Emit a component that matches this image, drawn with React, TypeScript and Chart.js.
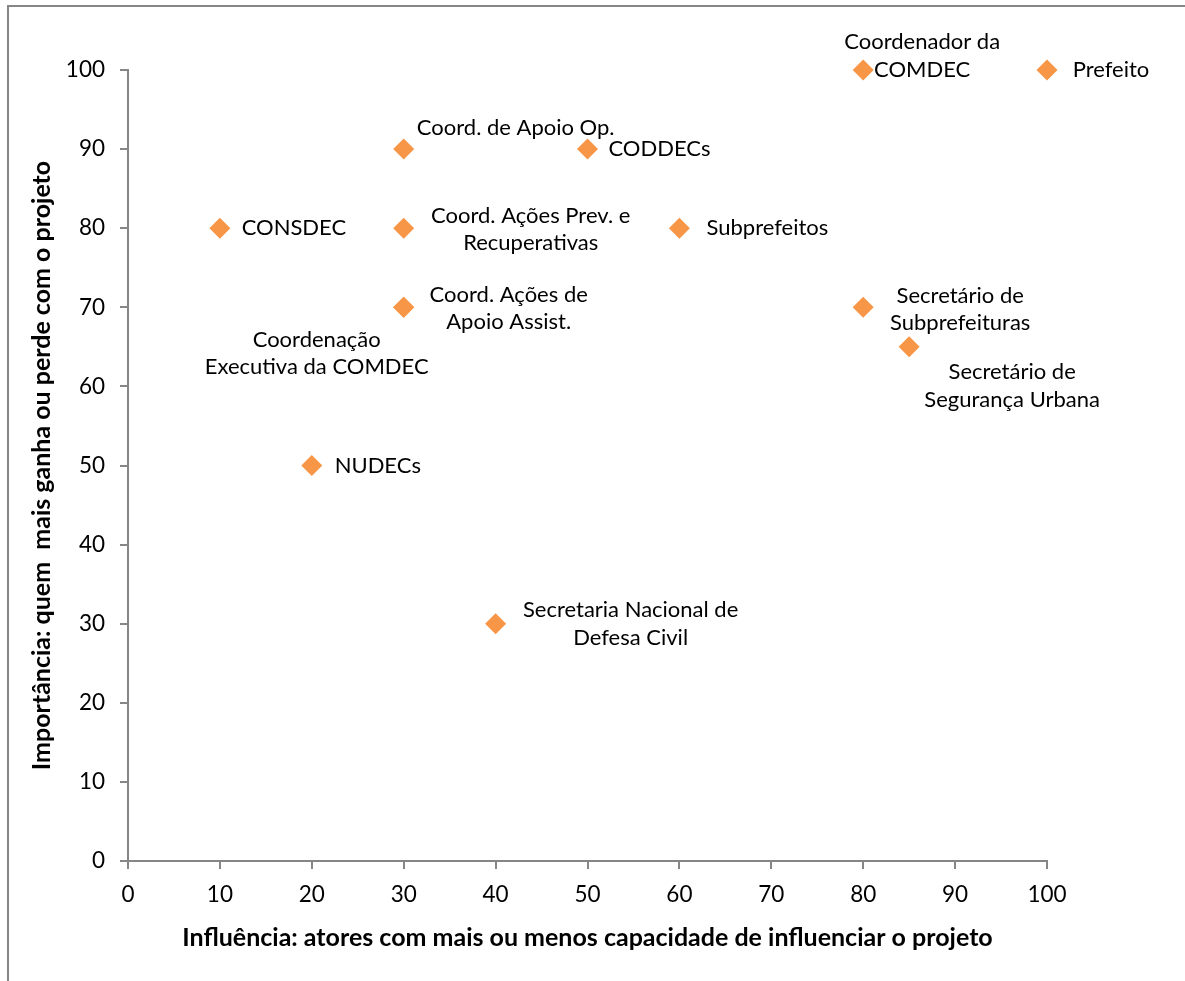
import React, { useEffect, useRef } from "react";
import { Chart, registerables } from "chart.js";

Chart.register(...registerables);

// ---- Data ----
const actorNames: string[][] = [
  ["Coordenador da", "COMDEC"],
  ["Prefeito"],
  ["Coord. de Apoio Op."],
  ["CODDECs"],
  ["CONSDEC"],
  ["Coord. Ações Prev. e", "Recuperativas"],
  ["Subprefeitos"],
  ["Coord. Ações de", "Apoio Assist."],
  ["Coordenação", "Executiva da COMDEC"],
  ["Secretário de", "Subprefeituras"],
  ["Secretário de", "Segurança Urbana"],
  ["NUDECs"],
  ["Secretaria Nacional de", "Defesa Civil"],
];
const influenceValues: number[] = [80, 100, 30, 50, 10, 30, 60, 30, 30, 80, 85, 20, 40];
const importanceValues: number[] = [100, 100, 90, 90, 80, 80, 80, 70, 70, 70, 65, 50, 30];
const xTickValues: number[] = [0, 10, 20, 30, 40, 50, 60, 70, 80, 90, 100];
const yTickValues: number[] = [0, 10, 20, 30, 40, 50, 60, 70, 80, 90, 100];
const xAxisTitle = "Influência: atores com mais ou menos capacidade de influenciar o projeto";
const yAxisTitle = "Importância: quem  mais ganha ou perde com o projeto";

// Label placement relative to each marker (text-block centre offset, px)
const labelOffsets: [number, number][] = [
  [59, -14],
  [64, 0],
  [112, -21],
  [72, 0],
  [74, 0],
  [127, 1],
  [88, 0],
  [105, 1],
  [-87, 46],
  [97, 2],
  [103, 39],
  [66, 0],
  [135, 0],
];

const FONT = "Lato, 'Open Sans', sans-serif";
const AXIS_GRAY = "#868686";
const MARKER = "#F79646";

const labelPlugin = {
  id: "pointLabels",
  afterDatasetsDraw(chart: any) {
    const ctx = chart.ctx;
    const meta = chart.getDatasetMeta(0);
    ctx.save();
    ctx.font = `22px ${FONT}`;
    ctx.fillStyle = "#000";
    ctx.textAlign = "center";
    ctx.textBaseline = "middle";
    const lh = 27.5;
    meta.data.forEach((el: any, i: number) => {
      const lines = actorNames[i];
      const [dx, dy] = labelOffsets[i];
      const cx = el.x + dx;
      const cy = el.y + dy;
      const startY = cy - ((lines.length - 1) * lh) / 2;
      lines.forEach((ln, j) => ctx.fillText(ln, cx, startY + j * lh));
    });
    ctx.restore();
  },
};

const framePlugin = {
  id: "frame",
  beforeDraw(chart: any) {
    const ctx = chart.ctx;
    ctx.save();
    ctx.strokeStyle = AXIS_GRAY;
    ctx.lineWidth = 2;
    ctx.strokeRect(8, 6, 1400, 1400);
    ctx.restore();
  },
};

export default function App() {
  const ref = useRef<HTMLCanvasElement>(null);
  useEffect(() => {
    if (!ref.current) return;
    const chart = new Chart(ref.current, {
      type: "scatter",
      data: {
        datasets: [
          {
            data: influenceValues.map((x, i) => ({ x, y: importanceValues[i] })),
            pointStyle: "rectRot",
            pointRadius: 10.5,
            pointHoverRadius: 10.5,
            backgroundColor: MARKER,
            borderColor: MARKER,
            borderWidth: 0,
            clip: false,
          },
        ],
      },
      options: {
        animation: false,
        responsive: false,
        devicePixelRatio: 1,
        layout: { padding: { top: 70, right: 138, bottom: 28, left: 27 } },
        plugins: { legend: { display: false }, tooltip: { enabled: false } },
        scales: {
          x: {
            type: "linear",
            min: 0,
            max: 100,
            afterBuildTicks: (s: any) => {
              s.ticks = xTickValues.map((v) => ({ value: v }));
            },
            afterFit: (s: any) => {
              s.height = 92;
            },
            ticks: {
              color: "#000",
              font: { family: FONT, size: 22.5 },
              padding: 12,
              maxRotation: 0,
            },
            grid: {
              display: true,
              drawOnChartArea: false,
              drawTicks: true,
              tickLength: 8,
              color: AXIS_GRAY,
              lineWidth: 2,
            },
            border: { display: true, color: AXIS_GRAY, width: 2 },
            title: {
              display: true,
              text: xAxisTitle,
              color: "#000",
              font: { family: FONT, size: 25, weight: "bold" },
              padding: 0,
            },
          },
          y: {
            type: "linear",
            min: 0,
            max: 100,
            afterBuildTicks: (s: any) => {
              s.ticks = yTickValues.map((v) => ({ value: v }));
            },
            afterFit: (s: any) => {
              s.width = 101;
            },
            ticks: {
              color: "#000",
              font: { family: FONT, size: 22.5 },
              padding: 15,
            },
            grid: {
              display: true,
              drawOnChartArea: false,
              drawTicks: true,
              tickLength: 8,
              color: AXIS_GRAY,
              lineWidth: 2,
            },
            border: { display: true, color: AXIS_GRAY, width: 2 },
            title: {
              display: true,
              text: yAxisTitle,
              color: "#000",
              font: { family: FONT, size: 25, weight: "bold" },
              padding: 0,
            },
          },
        },
      },
      plugins: [framePlugin, labelPlugin],
    } as any);
    return () => chart.destroy();
  }, []);

  return (
    <div style={{ position: "fixed", left: 0, top: 0, width: 1185, height: 981, background: "#fff" }}>
      <canvas ref={ref} width={1185} height={981} style={{ display: "block" }} />
    </div>
  );
}
